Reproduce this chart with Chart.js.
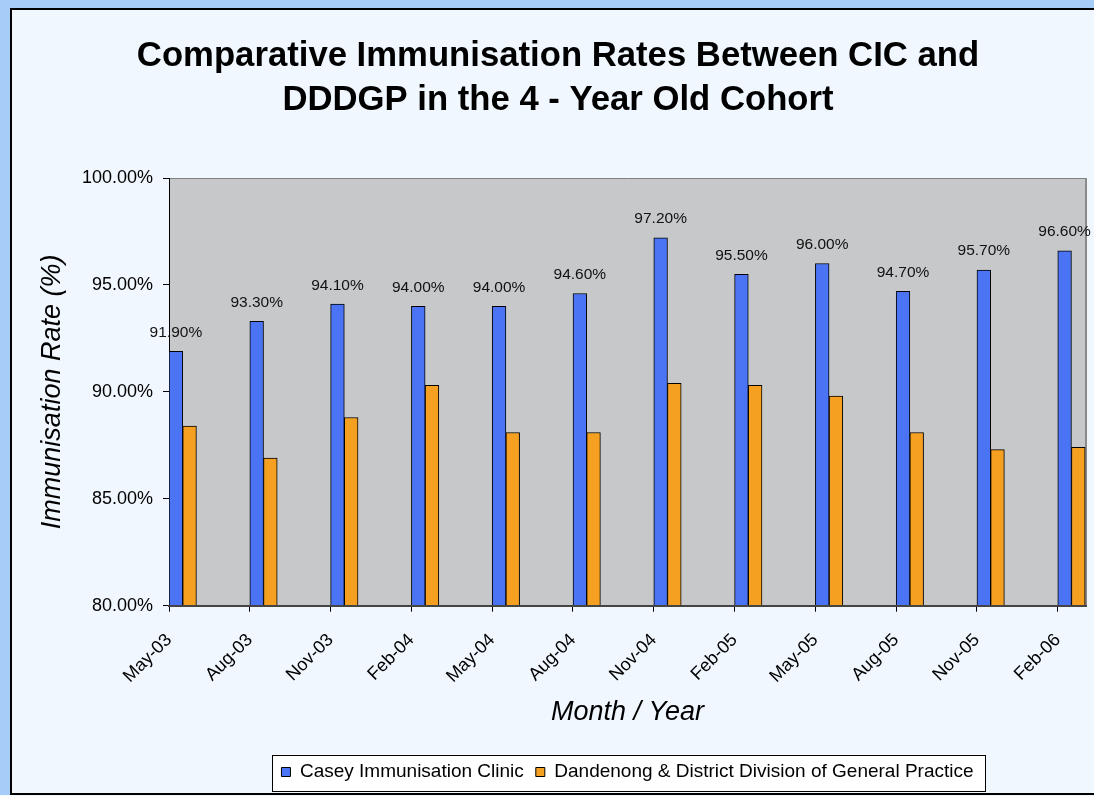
<!DOCTYPE html>
<html>
<head>
<meta charset="utf-8">
<title>Comparative Immunisation Rates</title>
<script src="https://cdn.jsdelivr.net/npm/chart.js@4.4.1/dist/chart.umd.min.js"></script>
<style>
  html, body { margin: 0; padding: 0; background: #f1f7fe; overflow: hidden; }
  canvas { display: block; }
</style>
</head>
<body>
<canvas id="grafico" width="1094" height="796"></canvas>
<script>
  // values
  var meses = ["May-03", "Aug-03", "Nov-03", "Feb-04", "May-04", "Aug-04",
               "Nov-04", "Feb-05", "May-05", "Aug-05", "Nov-05", "Feb-06"];
  var caseyRates = [91.9, 93.3, 94.1, 94.0, 94.0, 94.6, 97.2, 95.5, 96.0, 94.7, 95.7, 96.6];
  var dddgpRates = [88.4, 86.9, 88.8, 90.3, 88.1, 88.1, 90.4, 90.3, 89.8, 88.1, 87.3, 87.4];
  var yTicks = [80, 85, 90, 95, 100];

  var fonte = "'Liberation Sans', Arial, sans-serif";
  Chart.defaults.font.family = fonte;
  Chart.defaults.color = '#000';

  // page frame, grey plot area and the white legend box
  var fundo = {
    id: 'fundo',
    beforeDraw: function(chart) {
      var ctx = chart.ctx;
      var a = chart.chartArea;
      ctx.save();
      ctx.fillStyle = '#a6cdf7';
      ctx.fillRect(0, 0, chart.width, chart.height);
      ctx.fillStyle = '#f1f7fe';
      ctx.fillRect(11, 9, chart.width, 785);
      ctx.fillRect(0, 795, chart.width, 5);
      ctx.strokeStyle = '#000';
      ctx.lineWidth = 2;
      ctx.beginPath();
      ctx.moveTo(chart.width + 5, 9);
      ctx.lineTo(11, 9);
      ctx.lineTo(11, 794);
      ctx.lineTo(chart.width + 5, 794);
      ctx.stroke();

      ctx.fillStyle = '#c7c8ca';
      ctx.fillRect(a.left, a.top, a.right - a.left, a.bottom - a.top);
      ctx.lineWidth = 1;
      ctx.strokeStyle = '#808080';
      ctx.beginPath();
      ctx.moveTo(a.left, a.top + 0.5);
      ctx.lineTo(a.right, a.top + 0.5);
      ctx.stroke();
      ctx.lineWidth = 2;
      ctx.strokeStyle = '#8a8a8a';
      ctx.beginPath();
      ctx.moveTo(a.right, a.top);
      ctx.lineTo(a.right, a.bottom);
      ctx.stroke();

      var boxes = chart.legend.legendHitBoxes;
      if (boxes && boxes.length) {
        var first = boxes[0], last = boxes[boxes.length - 1];
        var x0 = first.left - 9, x1 = last.left + last.width + 12;
        var y0 = first.top - 8, y1 = first.top + first.height + 9;
        ctx.fillStyle = '#ffffff';
        ctx.fillRect(x0, y0, x1 - x0, y1 - y0);
        ctx.lineWidth = 1;
        ctx.strokeStyle = '#000';
        ctx.strokeRect(Math.round(x0) + 0.5, Math.round(y0) + 0.5, Math.round(x1 - x0), Math.round(y1 - y0));
      }
      ctx.restore();
    }
  };

  // value labels over the Casey bars
  var rotulos = {
    id: 'rotulos',
    afterDatasetsDraw: function(chart) {
      var ctx = chart.ctx;
      var meta = chart.getDatasetMeta(0);
      ctx.save();
      ctx.font = '15.5px ' + fonte;
      ctx.fillStyle = '#111';
      ctx.textAlign = 'center';
      ctx.textBaseline = 'alphabetic';
      meta.data.forEach(function(bar, i) {
        ctx.fillText(caseyRates[i].toFixed(2) + '%', bar.x, bar.y - 14.5);
      });
      ctx.restore();
    }
  };

  var dados = {
    datasets: [
      {
        label: 'Casey Immunisation Clinic',
        data: caseyRates.map(function(v, i) { return {x: i, y: v}; }),
        backgroundColor: '#4b74f5',
        borderColor: '#000',
        borderWidth: 1,
        borderSkipped: false,
        barThickness: 13.7,
        xAxisID: 'xb'
      },
      {
        label: 'Dandenong & District Division of General Practice',
        data: dddgpRates.map(function(v, i) { return {x: i, y: v}; }),
        backgroundColor: '#f5a020',
        borderColor: '#000',
        borderWidth: 1,
        borderSkipped: false,
        barThickness: 13.7,
        xAxisID: 'xb'
      }
    ]
  };

  var ctx = document.getElementById('grafico').getContext('2d');
  var grafico = new Chart(ctx, {
    type: 'bar',
    data: dados,
    plugins: [fundo, rotulos],
    options: {
      responsive: false,
      animation: false,
      layout: { padding: { left: 30, right: 8, top: 10, bottom: 4.5 } },
      plugins: {
        tooltip: { enabled: false },
        title: {
          display: true,
          text: ['Comparative Immunisation Rates Between CIC and', 'DDDGP in the 4 - Year Old Cohort'],
          font: { size: 34.7, weight: 'bold', lineHeight: 44 / 34.7 },
          color: '#000',
          padding: { top: 24, bottom: 56 }
        },
        legend: {
          position: 'bottom',
          fullSize: false,
          labels: {
            boxWidth: 9,
            boxHeight: 9,
            padding: 12,
            font: { size: 19 },
            color: '#000'
          }
        }
      },
      scales: {
        x: {
          type: 'linear',
          position: 'bottom',
          min: 0,
          max: 11.35,
          offset: false,
          afterFit: function(scale) { scale.height = 144.8; },
          grid: { offset: false, drawOnChartArea: false, drawTicks: true, tickLength: 6, tickColor: '#000' },
          border: { color: '#444', width: 2, z: 1 },
          ticks: {
            stepSize: 1,
            includeBounds: false,
            autoSkip: false,
            minRotation: 45,
            maxRotation: 45,
            padding: 19,
            font: { size: 18, lineHeight: 1 },
            color: '#000',
            callback: function(v) { return meses[v]; }
          },
          title: {
            display: true,
            text: 'Month / Year',
            font: { size: 27, style: 'italic' },
            color: '#000',
            padding: { bottom: 22 }
          }
        },
        xb: {
          type: 'linear',
          display: false,
          position: 'bottom',
          offset: false,
          grid: { offset: false },
          min: -0.17,
          max: 11.18
        },
        y: {
          min: yTicks[0],
          max: yTicks[yTicks.length - 1],
          afterFit: function(scale) { scale.width = 139; },
          grid: { drawOnChartArea: false, drawTicks: true, tickLength: 6, tickColor: '#000' },
          border: { color: '#000', width: 1 },
          ticks: {
            stepSize: yTicks[1] - yTicks[0],
            padding: 10,
            font: { size: 18 },
            color: '#000',
            callback: function(v) { return v.toFixed(2) + '%'; }
          },
          title: {
            display: true,
            text: 'Immunisation Rate (%)',
            font: { size: 27, style: 'italic' },
            color: '#000',
            padding: { top: 6.4 }
          }
        }
      }
    }
  });
</script>
</body>
</html>
